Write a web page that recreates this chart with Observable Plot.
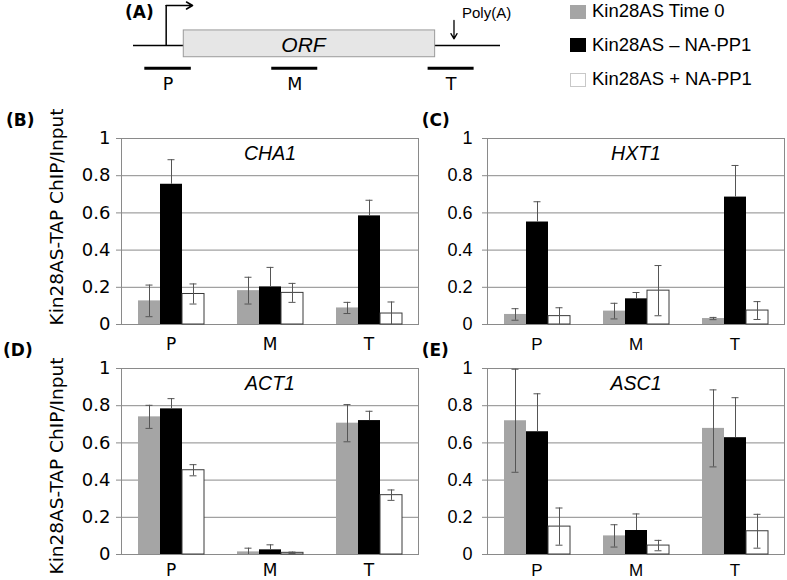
<!DOCTYPE html>
<html><head><meta charset="utf-8">
<script src="https://cdn.jsdelivr.net/npm/d3@7"></script>
<script src="https://cdn.jsdelivr.net/npm/@observablehq/plot@0.6"></script>
<style>
html,body{margin:0;padding:0;background:#fff;}
#fig{position:relative;width:787px;height:580px;overflow:hidden;background:#fff;font-family:"Liberation Sans",Arial,sans-serif;color:#000;}
.lab{position:absolute;font-family:"DejaVu Sans";font-weight:bold;font-size:17px;line-height:1;white-space:nowrap;}
.ytitle{position:absolute;font-family:"DejaVu Sans";font-size:18.5px;line-height:1;white-space:nowrap;transform:translate(-50%,-50%) rotate(-90deg);}
.leg{position:absolute;left:570px;height:20px;font-size:18.5px;line-height:1;white-space:nowrap;display:flex;align-items:center;}
.sw{width:16px;height:14px;margin-right:6px;box-sizing:border-box;}
</style></head>
<body><div id="fig"></div>
<script>
// ---------- data ----------
const regions = ["P", "M", "T"];
const series = ["Kin28AS Time 0", "Kin28AS \u2013 NA-PP1", "Kin28AS + NA-PP1"];
const seriesFill = ["#a5a5a5", "#000000", "#ffffff"];
const yTicks = [0, 0.2, 0.4, 0.6, 0.8, 1];
const genes = ["CHA1", "HXT1", "ACT1", "ASC1"];
const panelLabels = ["(B)", "(C)", "(D)", "(E)"];
const yTitle = "Kin28AS-TAP ChIP/Input";

// rows = series (Time 0, – NA-PP1, + NA-PP1), columns = regions (P, M, T)
const cha1Mean = [[0.127, 0.182, 0.089], [0.754, 0.202, 0.584], [0.164, 0.170, 0.059]];
const cha1Err  = [[0.085, 0.072, 0.030], [0.132, 0.105, 0.084], [0.054, 0.051, 0.062]];
const hxt1Mean = [[0.054, 0.072, 0.032], [0.551, 0.138, 0.685], [0.045, 0.182, 0.075]];
const hxt1Err  = [[0.031, 0.042, 0.006], [0.109, 0.034, 0.170], [0.045, 0.135, 0.048]];
const act1Mean = [[0.740, 0.014, 0.706], [0.783, 0.025, 0.720], [0.453, 0.009, 0.319]];
const act1Err  = [[0.062, 0.020, 0.100], [0.055, 0.027, 0.050], [0.030, 0.004, 0.028]];
const asc1Mean = [[0.719, 0.100, 0.678], [0.660, 0.129, 0.628], [0.150, 0.048, 0.125]];
const asc1Err  = [[0.277, 0.060, 0.207], [0.204, 0.089, 0.215], [0.100, 0.028, 0.091]];

// schematic gene (arbitrary units, ORF = 0..1000)
const geneSpan = [-200, 1260];
const orf = [{start: 0, end: 1000, label: "ORF"}];
const tss = -70, tssArrowEnd = 35;
const polyA = 1075;
const probes = [
  {name: "P", start: -155, end: 30},
  {name: "M", start: 350, end: 533},
  {name: "T", start: 972, end: 1155}
];

// ---------- helpers ----------
const fig = document.getElementById("fig");
function place(el, left, top) {
  el.style.position = "absolute";
  el.style.left = left + "px";
  el.style.top = top + "px";
  fig.appendChild(el);
}
const gridColor = "#8a8a8a";
const whisker = "#555555";

// ---------- (A) schematic ----------
const diag = Plot.plot({
  width: 540, height: 100, margin: 0,
  x: {domain: [-200, 1260], range: [133, 500], axis: null},
  y: {domain: [-3, 3], range: [85, 5], axis: null},
  style: {background: "none", overflow: "visible", fontFamily: "Liberation Sans"},
  marks: [
    Plot.ruleY([0], {x1: geneSpan[0], x2: geneSpan[1], stroke: "#000", strokeWidth: 1.5}),
    Plot.rect(orf, {x1: "start", x2: "end", y1: -0.88, y2: 1.13, fill: "#e6e6e6", stroke: "#9a9a9a"}),
    Plot.text(orf, {x: d => (d.start + d.end) / 2, y: 0, dx: -6, text: "label", fontStyle: "italic", fontSize: 21, fill: "#000"}),
    Plot.ruleX([tss], {x: d => d, y1: 0, y2: 3, stroke: "#000", strokeWidth: 1.5}),
    Plot.arrow([tss], {x1: d => d, x2: tssArrowEnd, y1: 3, y2: 3, headLength: 7, stroke: "#000", strokeWidth: 1.5}),
    Plot.arrow([polyA], {x1: d => d, x2: d => d, y1: 1.88, y2: 0.5, headLength: 7, stroke: "#000", strokeWidth: 1.3}),
    Plot.text(["Poly(A)"], {x: polyA, y: 2.44, dx: 8, text: d => d, textAnchor: "start", fontSize: 15, fill: "#000"}),
    Plot.ruleY(probes, {x1: "start", x2: "end", y: -1.7, stroke: "#000", strokeWidth: 3}),
    Plot.text(probes, {x: d => (d.start + d.end) / 2, y: -2.4, lineAnchor: "top", text: "name", fontSize: 17.5, fontFamily: "DejaVu Sans", fill: "#000"})
  ]
});
place(diag, 0, 0);

// (A) label
const la = document.createElement("div"); la.className = "lab"; la.textContent = "(A)"; place(la, 125, 3.5);

// legend
series.forEach((s, i) => {
  const row = document.createElement("div");
  row.className = "leg";
  const sw = document.createElement("div");
  sw.className = "sw";
  sw.style.background = seriesFill[i];
  sw.style.border = i === 2 ? "1px solid #c8c8c8" : "none";
  const tx = document.createElement("span");
  tx.textContent = s;
  row.appendChild(sw); row.appendChild(tx);
  place(row, 570, [1.7, 35, 69.7][i]);
});

// ---------- bar panels ----------
function rowsFor(mean, err) {
  const out = [];
  regions.forEach((r, j) => series.forEach((s, i) => out.push({region: r, series: s, si: i, mean: mean[i][j], err: err[i][j]})));
  return out;
}

function panel(cfg) {
  const rows = rowsFor(cfg.mean, cfg.err);
  const light = rows.filter(d => d.si !== 1);
  const plot = Plot.plot({
    width: cfg.width, height: cfg.height,
    marginLeft: cfg.marginLeft, marginRight: cfg.marginRight,
    marginTop: 18, marginBottom: cfg.height - 18 - 186,
    style: {background: "none", overflow: "visible", fontFamily: cfg.font, color: "#000"},
    fx: {domain: regions, paddingInner: 0, paddingOuter: 0},
    x: {domain: series, paddingInner: 0, paddingOuter: 0.75, axis: null},
    y: {domain: [0, 1]},
    color: {domain: series, range: seriesFill},
    marks: [
      Plot.ruleY(yTicks, {y: d => d, stroke: gridColor}),
      Plot.barY(rows, {fx: "region", x: "series", y: "mean", fill: "series"}),
      Plot.barY(rows.filter(d => d.si === 2), {fx: "region", x: "series", y: "mean", fill: "none", stroke: "#3a3a3a"}),
      Plot.ruleX(light, {fx: "region", x: "series", y1: d => Math.max(0, d.mean - d.err), y2: d => d.mean + d.err, stroke: whisker}),
      Plot.ruleX(rows.filter(d => d.si === 1), {fx: "region", x: "series", y1: "mean", y2: d => d.mean + d.err, stroke: whisker}),
      Plot.tickY(rows, {fx: "region", x: "series", y: d => d.mean + d.err, insetLeft: 7.5, insetRight: 7.5, stroke: whisker}),
      Plot.tickY(light.filter(d => d.mean - d.err > 0), {fx: "region", x: "series", y: d => d.mean - d.err, insetLeft: 7.5, insetRight: 7.5, stroke: whisker}),
      Plot.frame({anchor: "left", facetAnchor: "left", stroke: gridColor}),
      Plot.frame({anchor: "right", facetAnchor: "right", stroke: gridColor}),
      Plot.axisY(yTicks, {tickSize: 5, tickPadding: cfg.tickPadding, tickFormat: d => String(d), label: null,
        stroke: gridColor, fill: "#000", fontSize: cfg.tickSize, fontFamily: cfg.font}),
      Plot.axisFx({anchor: "bottom", tickSize: 0, tickPadding: cfg.catPadding, label: null, fill: "#000", fontSize: 17, fontFamily: cfg.font}),
      Plot.text([cfg.gene], {fx: () => "M", frameAnchor: "top", lineAnchor: "top", dy: 8, text: d => d,
        fontStyle: "italic", fontSize: 19.5, fontFamily: "Liberation Sans", fill: "#000"})
    ]
  });
  place(plot, cfg.left, cfg.top);
}

const leftCfg = {width: 420, marginLeft: 121, marginRight: 2, font: "DejaVu Sans", tickSize: 18, tickPadding: 6, left: 0};
const rightCfg = {width: 397, marginLeft: 97, marginRight: 3, font: "Liberation Sans", tickSize: 18, tickPadding: 10, left: 390};

panel({...leftCfg, gene: genes[0], mean: cha1Mean, err: cha1Err, top: 120, height: 236, catPadding: 13});
panel({...rightCfg, gene: genes[1], mean: hxt1Mean, err: hxt1Err, top: 120, height: 236, catPadding: 13});
panel({...leftCfg, gene: genes[2], mean: act1Mean, err: act1Err, top: 350, height: 230, catPadding: 9});
panel({...rightCfg, gene: genes[3], mean: asc1Mean, err: asc1Err, top: 350, height: 230, catPadding: 9});

// panel labels
[[6, 111.5], [421.7, 112], [3, 342], [421.7, 342]].forEach((p, i) => {
  const d = document.createElement("div"); d.className = "lab"; d.textContent = panelLabels[i]; place(d, p[0], p[1]);
});

// y titles
[216.5, 466].forEach(cy => {
  const d = document.createElement("div"); d.className = "ytitle"; d.textContent = yTitle; place(d, 56.5, cy);
});
</script>
</body></html>
